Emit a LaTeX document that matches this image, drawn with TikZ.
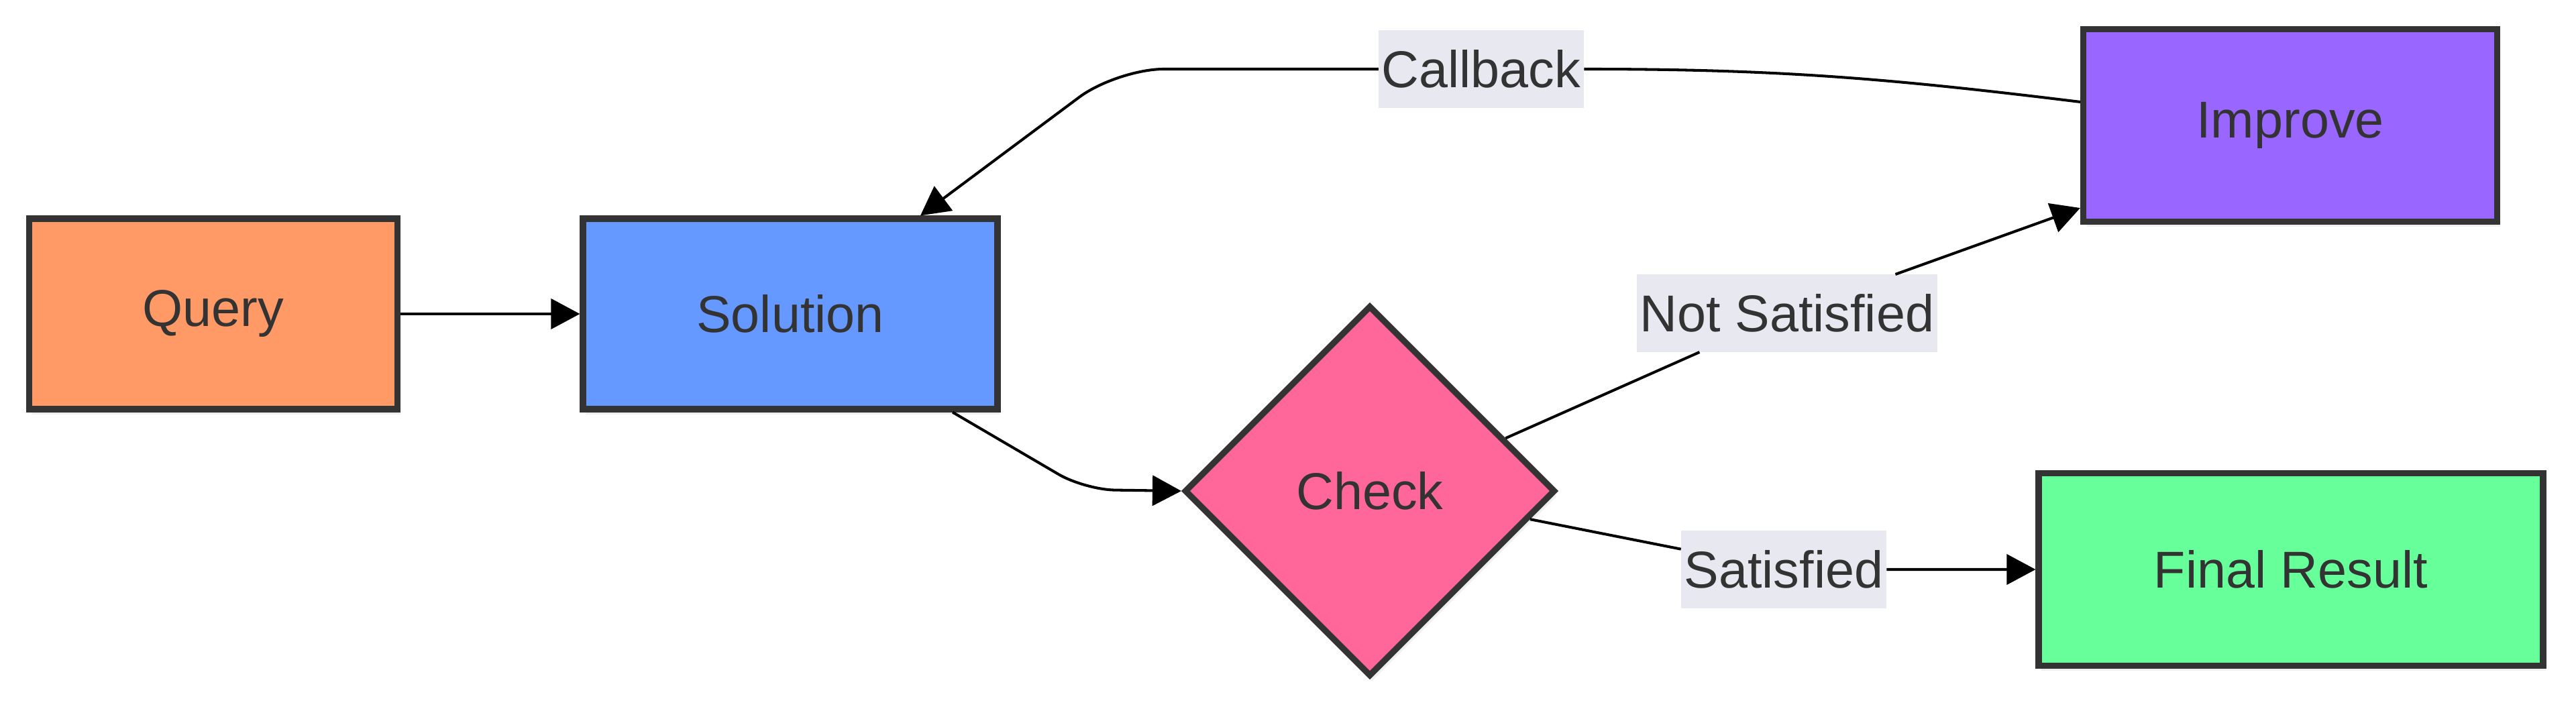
\documentclass[tikz,border=0pt]{standalone}
\usepackage{fontspec}
\setmainfont{Liberation Sans}
\usepackage{xcolor}
\usepackage{tikz}
\usetikzlibrary{shapes,positioning,calc,arrows.meta,shadows}
\definecolor{ink}{HTML}{333333}
\definecolor{cQuery}{HTML}{FF9966}
\definecolor{cSolution}{HTML}{6699FF}
\definecolor{cCheck}{HTML}{FF6699}
\definecolor{cImprove}{HTML}{9966FF}
\definecolor{cFinal}{HTML}{66FF99}
\definecolor{cLabel}{HTML}{E8E8F0}

\begin{document}
\begin{tikzpicture}[
    font=\fontsize{22}{26}\selectfont,
    box/.style={draw=ink, line width=2.6pt, text=ink, minimum height=2.84cm,
        drop shadow={opacity=0.12, shadow xshift=0.04cm, shadow yshift=-0.08cm}},
    edgelabel/.style={fill=cLabel, text=ink, minimum height=1.16cm, inner xsep=0.05cm, outer sep=0pt},
    arr/.style={-{Triangle[length=4.3mm, width=4.5mm]}, line width=1.15pt, black}
]
    \useasboundingbox (0,0) rectangle (38.4,10.6);
    \node[box, fill=cQuery, minimum width=5.49cm] (query) at (3.18,5.92) {Query};
    \node[box, fill=cSolution, minimum width=6.18cm] (sol) at (11.78,5.92) {Solution};
    \node[box, fill=cCheck, diamond, minimum size=5.53cm, inner sep=0pt] (chk) at (20.42,3.28) {Check};
    \node[box, fill=cImprove, minimum width=6.17cm, minimum height=2.87cm] (imp) at (34.14,8.73) {Improve};
    \node[box, fill=cFinal, minimum width=7.52cm, minimum height=2.87cm] (fin) at (34.15,2.11) {Final Result};

    \node[edgelabel] (cb) at (22.08,9.57) {Callback};
    \node[edgelabel] (ns) at (26.64,5.93) {Not Satisfied};
    \node[edgelabel] (sat) at (26.59,2.11) {Satisfied};

    \draw[arr] (query) -- (sol);
    \draw[arr, rounded corners=0.45cm] ([xshift=2.42cm]sol.south) -- (16.17,3.30) -- (chk.west);
    \draw[arr] ($(chk.north east)!0.44!(chk.east)$) -- (ns) -- ([yshift=0.25cm]imp.south west);
    \draw[arr] ($(chk.east)!0.3!(chk.south east)$) -- (sat) -- (fin.west);
    \draw[line width=1.15pt] ([yshift=0.35cm]imp.west) to[out=173, in=0] (cb.east);
    \draw[arr, rounded corners=0.7cm] (cb.west) -- (16.65,9.57) -- ([xshift=1.94cm]sol.north);
\end{tikzpicture}
\end{document}
